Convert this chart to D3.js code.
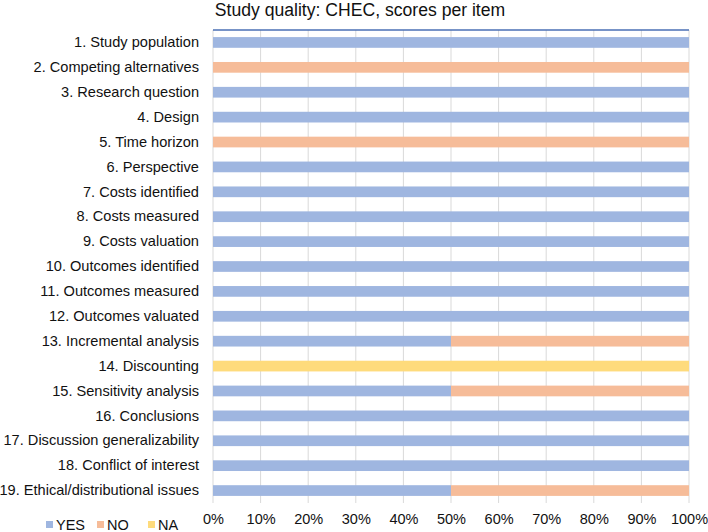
<!DOCTYPE html>
<html><head><meta charset="utf-8">
<script src="https://cdn.jsdelivr.net/npm/d3@7"></script>
<style>body{margin:0;background:#fff;}svg{display:block;font-family:"Liberation Sans",Arial,sans-serif;}</style>
</head><body><svg id="c" width="708" height="532"></svg>
<script>
const categories = ["1. Study population","2. Competing alternatives","3. Research question","4. Design","5. Time horizon","6. Perspective","7. Costs identified","8. Costs measured","9. Costs valuation","10. Outcomes identified","11. Outcomes measured","12. Outcomes valuated","13. Incremental analysis","14. Discounting","15. Sensitivity analysis","16. Conclusions","17. Discussion generalizability","18. Conflict of interest","19. Ethical/distributional issues"];
const yesValues = [100,0,100,100,0,100,100,100,100,100,100,100,50,0,50,100,100,100,50];
const noValues  = [0,100,0,0,100,0,0,0,0,0,0,0,50,0,50,0,0,0,50];
const naValues  = [0,0,0,0,0,0,0,0,0,0,0,0,0,100,0,0,0,0,0];
const seriesNames = ["YES","NO","NA"];
const seriesColors = ["#9fb6e0","#f6bc99","#fedb7c"];
const xTicks = [0,10,20,30,40,50,60,70,80,90,100];
const title = "Study quality: CHEC, scores per item";

const svg = d3.select("#c");
const m = {left:213, right:689, top:30, bottom:503};
const x = d3.scaleLinear().domain([0,100]).range([m.left,m.right]);
const y = d3.scaleBand().domain(categories).range([m.top,m.bottom]).paddingInner(0.57).paddingOuter(0.285);

svg.append("g").selectAll("line").data(xTicks).join("line")
  .attr("x1",d=>x(d)).attr("x2",d=>x(d)).attr("y1",m.top).attr("y2",m.bottom)
  .attr("stroke","#d9d9d9").attr("stroke-width",1);

const stackData = categories.map((c,i)=>({c, YES:yesValues[i], NO:noValues[i], NA:naValues[i]}));
const stack = d3.stack().keys(seriesNames)(stackData);
stack.forEach((s,si)=>{
  svg.append("g").attr("fill",seriesColors[si]).selectAll("rect").data(s.filter(d=>d[1]-d[0]>0)).join("rect")
    .attr("x",d=>x(d[0])).attr("width",d=>x(d[1])-x(d[0]))
    .attr("y",d=>y(d.data.c)).attr("height",y.bandwidth());
});

svg.append("line").attr("x1",m.left).attr("x2",m.right).attr("y1",m.top).attr("y2",m.top)
  .attr("stroke","#4a6fb5").attr("stroke-width",1.3);

const yAxis = d3.axisLeft(y).tickSize(0).tickPadding(14);
const ga = svg.append("g").attr("transform",`translate(${m.left},0)`).call(yAxis);
ga.select(".domain").remove();
ga.selectAll("text").attr("font-size",14.6).attr("fill","#111").attr("font-family","Liberation Sans, Arial, sans-serif");

const xAxis = d3.axisBottom(x).tickValues(xTicks).tickFormat(d=>d+"%").tickSize(0).tickPadding(11);
const gx = svg.append("g").attr("transform",`translate(0,${m.bottom})`).call(xAxis);
gx.select(".domain").remove();
gx.selectAll("text").attr("font-size",14.5).attr("fill","#111").attr("font-family","Liberation Sans, Arial, sans-serif");

svg.append("text").attr("x",360).attr("y",16).attr("text-anchor","middle")
  .attr("font-size",17.6).attr("fill","#111").text(title);

const lx = [46,97,148];
seriesNames.forEach((n,i)=>{
  svg.append("rect").attr("x",lx[i]).attr("y",521).attr("width",7).attr("height",7).attr("fill",seriesColors[i]);
  svg.append("text").attr("x",lx[i]+10).attr("y",530).attr("font-size",14.5).attr("fill","#111").text(n);
});
</script></body></html>
